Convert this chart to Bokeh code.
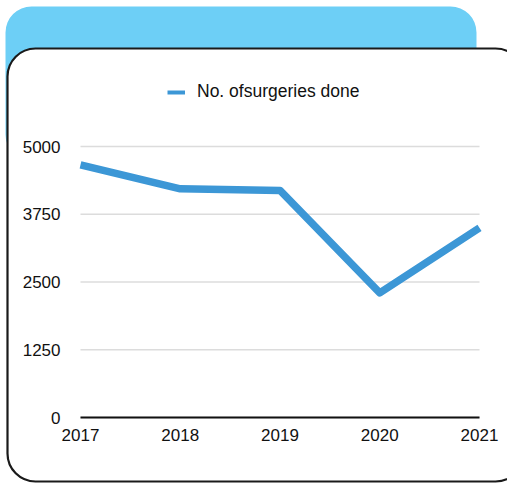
from bokeh.plotting import figure
from bokeh.models import (BoxAnnotation, CDSView, ColumnDataSource, FixedTicker,
                          IndexFilter, Legend, LegendItem, LinearAxis, Range1d)
from bokeh.embed import file_html
from bokeh.resources import INLINE

# ---- data ----
years = [2017, 2018, 2019, 2020, 2021]
surgeries = [4660, 4220, 4190, 2300, 3500]
series_label = "No. ofsurgeries done"
y_ticks = [0, 1250, 2500, 3750, 5000]

W, H = 507, 484
FONT = "Liberation Sans"
LINE_COLOR = "#3c97d6"

# pixel placement of the plotting area inside the canvas (layout only)
PX_L, PX_R, PX_T, PX_B = 80, 479, 146, 417
x0, x1 = years[0], years[-1]
y0, y1 = y_ticks[0], y_ticks[-1]
sx = (x1 - x0) / (PX_R - PX_L)
sy = (y1 - y0) / (PX_B - PX_T)
x_range = Range1d(x0 - PX_L * sx, x1 + (W - PX_R) * sx)
y_range = Range1d(y0 - (H - PX_B) * sy, y1 + PX_T * sy)

p = figure(width=W, height=H, output_backend="svg", toolbar_location=None,
           x_range=x_range, y_range=y_range,
           x_axis_location=None, y_axis_location=None,
           min_border=0, min_border_left=0, min_border_right=0,
           min_border_top=0, min_border_bottom=0)
p.outline_line_color = None
p.background_fill_color = "white"
p.border_fill_color = "white"
p.grid.visible = False

# decorative cards (canvas pixel units, y from the top)
blue = BoxAnnotation(left=5, right=476, top=6, bottom=160,
                     left_units="canvas", right_units="canvas",
                     top_units="canvas", bottom_units="canvas",
                     fill_color="#6dcff6", fill_alpha=1, line_color=None,
                     border_radius=26, level="image")
card = BoxAnnotation(left=7, right=W + 16, top=48, bottom=481,
                     left_units="canvas", right_units="canvas",
                     top_units="canvas", bottom_units="canvas",
                     fill_color="white", fill_alpha=1, line_color="#1a1a1a",
                     line_alpha=1, line_width=2.2, border_radius=28,
                     level="image")
p.add_layout(blue)
p.add_layout(card)

# horizontal grid lines at the y ticks
grid_src = ColumnDataSource(dict(x0=[x0] * len(y_ticks), x1=[x1] * len(y_ticks),
                                 y=y_ticks))
p.segment(x0="x0", y0="y", x1="x1", y1="y", source=grid_src,
          line_color="#dcdcdc", line_width=1.5, level="underlay")

src = ColumnDataSource(dict(x=years, y=surgeries))
r = p.line("x", "y", source=src, line_color=LINE_COLOR, line_width=7.5,
           line_join="round")
# legend stub: a single-point view of the same source draws no visible line,
# but provides a thinner legend swatch
r_leg = p.line("x", "y", source=src, view=CDSView(filter=IndexFilter([0])),
               line_color=LINE_COLOR, line_width=4, line_cap="butt")

# axes drawn at fixed locations inside the canvas
xaxis = LinearAxis(ticker=FixedTicker(ticks=years), fixed_location=y0,
                   bounds=(x0, x1))
xaxis.axis_line_color = "#111111"
xaxis.axis_line_width = 2
xaxis.major_tick_line_color = None
xaxis.minor_tick_line_color = None
xaxis.major_tick_out = 0
xaxis.major_tick_in = 0
xaxis.major_label_standoff = 11
xaxis.major_label_text_font = FONT
xaxis.major_label_text_font_size = "17px"
xaxis.major_label_text_color = "#111111"
p.add_layout(xaxis, "below")

yaxis = LinearAxis(ticker=FixedTicker(ticks=y_ticks), fixed_location=x0,
                   bounds=(y0, y1))
yaxis.axis_line_color = None
yaxis.major_tick_line_color = None
yaxis.minor_tick_line_color = None
yaxis.major_tick_out = 0
yaxis.major_tick_in = 0
yaxis.major_label_standoff = 20
yaxis.major_label_text_font = FONT
yaxis.major_label_text_font_size = "17px"
yaxis.major_label_text_color = "#111111"
p.add_layout(yaxis, "left")

legend = Legend(items=[LegendItem(label=series_label, renderers=[r_leg])],
                location=(167, H - 102), orientation="horizontal",
                padding=0, margin=0, spacing=0,
                glyph_width=18, glyph_height=20, label_height=20,
                label_standoff=12, border_line_color=None,
                background_fill_alpha=0,
                label_text_font=FONT, label_text_font_size="17.5px",
                label_text_color="#111111")
p.add_layout(legend)

open("out.html", "w").write(file_html(p, INLINE))
